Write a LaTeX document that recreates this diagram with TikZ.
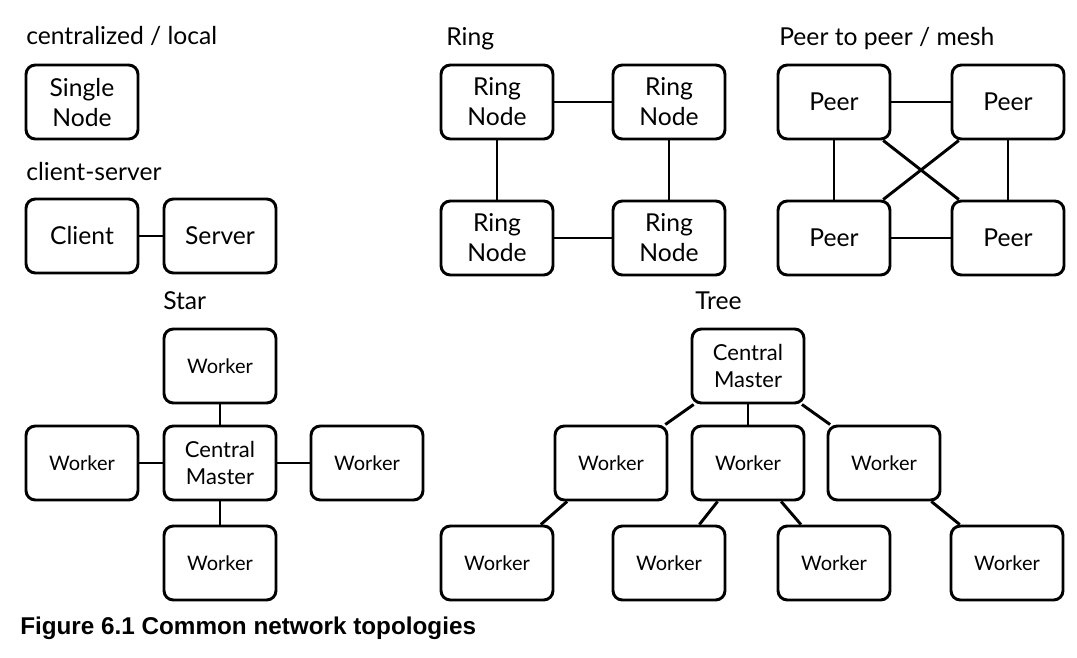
\documentclass[tikz,border=0pt]{standalone}
\usepackage{fontspec}
\setmainfont{Lato}
\newfontfamily\captionfont{Liberation Sans}
\begin{document}
\begin{tikzpicture}[x=0.75pt,y=-0.75pt,
    box/.style={draw, line width=2.2pt, rounded corners=7pt, minimum width=84pt,
        minimum height=55.5pt, align=center, inner sep=0pt},
    bigbox/.style={box, font=\fontsize{18.5}{22.5}\selectfont},
    workerbox/.style={box, font=\fontsize{15}{18}\selectfont},
    masterbox/.style={box, font=\fontsize{16.5}{20.5}\selectfont},
    title/.style={anchor=base west, inner sep=0pt, font=\fontsize{18.5}{22}\selectfont},
    link/.style={line width=2.2pt}]
    \useasboundingbox (0,0) rectangle (1077,657);

    % Centralized and client-server
    \node[title] (tlocal) at (26,44) {centralized / local};
    \node[bigbox] (single) at (82,102) {Single\\Node};
    \node[title] (tcs) at (26,180) {client-server};
    \node[bigbox] (client) at (82,236) {Client};
    \node[bigbox] (server) at (220,236) {Server};
    \draw[link] (client) -- (server);

    % Ring
    \node[title] (tring) at (446,45) {Ring};
    \node[bigbox] (r1) at (497,102) {Ring\\Node};
    \node[bigbox] (r2) at (669,102) {Ring\\Node};
    \node[bigbox] (r3) at (497,238) {Ring\\Node};
    \node[bigbox] (r4) at (669,238) {Ring\\Node};
    \draw[link] (r1) -- (r2);
    \draw[link] (r2) -- (r4);
    \draw[link] (r4) -- (r3);
    \draw[link] (r3) -- (r1);

    % Peer to peer
    \node[title] (tpeer) at (779,45) {Peer to peer / mesh};
    \node[bigbox] (p1) at (834,102) {Peer};
    \node[bigbox] (p2) at (1008,102) {Peer};
    \node[bigbox] (p3) at (834,238) {Peer};
    \node[bigbox] (p4) at (1008,238) {Peer};
    \draw[link] (p1) -- (p2);
    \draw[link] (p3) -- (p4);
    \draw[link] (p1) -- (p3);
    \draw[link] (p2) -- (p4);
    \draw[link] (p1) -- (p4);
    \draw[link] (p2) -- (p3);

    % Star
    \node[title] (tstar) at (163,309) {Star};
    \node[masterbox] (sc) at (220,463) {Central\\Master};
    \node[workerbox] (st) at (220,366) {Worker};
    \node[workerbox] (sl) at (82,463) {Worker};
    \node[workerbox] (sr) at (367,463) {Worker};
    \node[workerbox] (sb) at (220,563) {Worker};
    \foreach \w in {st,sl,sr,sb}
        \draw[link] (sc) -- (\w);

    % Tree
    \node[title] (ttree) at (695,309) {Tree};
    \node[masterbox] (tm) at (748,366) {Central\\Master};
    \node[workerbox] (tw1) at (611,463) {Worker};
    \node[workerbox] (tw2) at (748,463) {Worker};
    \node[workerbox] (tw3) at (884,463) {Worker};
    \node[workerbox] (tb1) at (497,563) {Worker};
    \node[workerbox] (tb2) at (669,563) {Worker};
    \node[workerbox] (tb3) at (834,563) {Worker};
    \node[workerbox] (tb4) at (1007,563) {Worker};
    \foreach \w in {tw1,tw2,tw3}
        \draw[link] (tm) -- (\w);
    \draw[link] (tw1) -- (tb1);
    \draw[link] (tw2) -- (tb2);
    \draw[link] (tw2) -- (tb3);
    \draw[link] (tw3) -- (tb4);

    % Caption
    \node[anchor=base west, inner sep=0pt, font=\captionfont\bfseries\fontsize{18.2}{22}\selectfont]
        (caption) at (20,634) {Figure 6.1 Common network topologies};
\end{tikzpicture}
\end{document}
